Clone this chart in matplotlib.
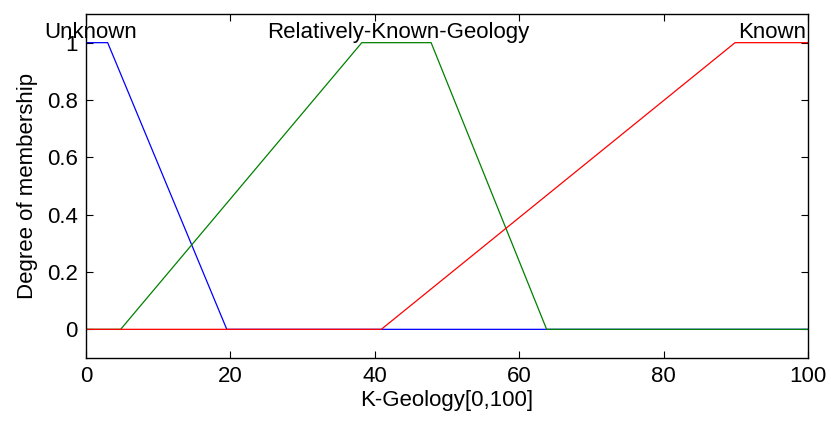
import matplotlib
matplotlib.use('Agg')
from matplotlib import pyplot as plt

plt.rcParams['font.family'] = ['Liberation Sans', 'DejaVu Sans']

# trapezoid corner points of each membership function
unknown_x = [0, 3, 19.5, 100]
unknown_y = [1, 1, 0, 0]
relknown_x = [0, 4.8, 38.2, 47.8, 63.8, 100]
relknown_y = [0, 0, 1, 1, 0, 0]
known_x = [0, 40.9, 89.9, 100]
known_y = [0, 0, 1, 1]

mf_names = ['Unknown', 'Relatively-Known-Geology', 'Known']
label_x = [0.7, 43.2, 95]
xticks = [0, 20, 40, 60, 80, 100]
yticks = [0, 0.2, 0.4, 0.6, 0.8, 1]


def main():
    fig = plt.figure(figsize=(8.31, 4.24), dpi=100)
    ax = fig.add_axes([86 / 831, 1 - 358 / 424, 722 / 831, 344 / 424])

    ax.plot(unknown_x, unknown_y, color='blue', lw=0.9)
    ax.plot(relknown_x, relknown_y, color='green', lw=0.9)
    ax.plot(known_x, known_y, color='red', lw=0.9)

    for name, lx in zip(mf_names, label_x):
        ax.text(lx, 1.035, name, ha='center', va='center', fontsize=16)

    ax.set_xlim(0, 100)
    ax.set_ylim(-0.1, 1.1)
    ax.set_xticks(xticks)
    ax.set_yticks(yticks)
    ax.set_yticklabels(['0', '0.2', '0.4', '0.6', '0.8', '1'])
    ax.tick_params(direction='in', top=True, right=True, length=5, width=0.8, labelsize=16, pad=6)
    for sp in ax.spines.values():
        sp.set_linewidth(1.0)
    ax.set_xlabel('K-Geology[0,100]', fontsize=16, labelpad=2)
    ax.set_ylabel('Degree of membership', fontsize=16, labelpad=6)

    fig.savefig('out.png', dpi=100)
    plt.close(fig)


if __name__ == '__main__':
    main()
